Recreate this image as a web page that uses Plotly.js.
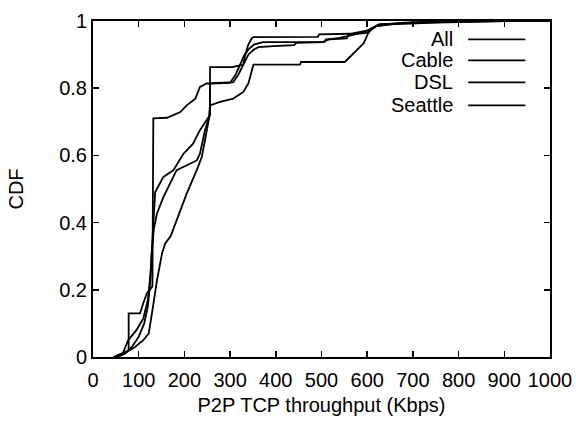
<!DOCTYPE html>
<html>
<head>
<meta charset="utf-8">
<script src="https://cdn.plot.ly/plotly-3.0.1.min.js"></script>
<style>html,body{margin:0;padding:0;background:#fff;}#chart{width:576px;height:424px;}</style>
</head>
<body>
<div id="chart"></div>
<script>
// Series names (legend order)
const seriesNames = ["All", "Cable", "DSL", "Seattle"];

// All: throughput (Kbps) and CDF
const allX = [50,70,85,100,112,120,125,128,133,140,154,183,227,234,245,253,256,256,300,312,322,330,340,352,372,504,515,540,590,620,680,800,1000];
const allY = [0,0.01,0.03,0.06,0.10,0.15,0.22,0.30,0.38,0.427,0.476,0.556,0.585,0.605,0.675,0.704,0.72,0.814,0.816,0.84,0.87,0.895,0.915,0.93,0.937,0.937,0.945,0.95,0.965,0.985,0.995,1,1];

// Cable
const cableX = [45,65,77,95,110,120,126,130,134,136,154,176,198,219,234,249,256,256,304,329,333,340,347,351,492,495,562,602,625,700,850,1000];
const cableY = [0,0.01,0.05,0.08,0.115,0.17,0.25,0.35,0.45,0.49,0.536,0.556,0.605,0.635,0.675,0.704,0.72,0.863,0.863,0.87,0.90,0.93,0.948,0.952,0.953,0.96,0.962,0.972,0.99,0.995,1,1];

// DSL
const dslX = [55,92,110,122,129,140,151,158,170,183,205,227,238,245,253,256,278,307,329,340,347,351,453,455,551,563,577,592,602,610,628,700,900,1000];
const dslY = [0,0.03,0.05,0.07,0.13,0.228,0.308,0.338,0.36,0.405,0.486,0.556,0.595,0.645,0.704,0.749,0.759,0.769,0.789,0.814,0.848,0.87,0.87,0.878,0.878,0.893,0.913,0.933,0.963,0.978,0.99,0.995,1,1];

// Seattle
const seattleX = [45,60,78,78,103,110,118,130,131,132,162,175,191,205,224,234,249,307,318,329,340,352,362,395,440,445,505,510,555,560,600,620,650,750,900,1000];
const seattleY = [0,0.01,0.02,0.13,0.13,0.16,0.19,0.21,0.5,0.71,0.712,0.72,0.729,0.749,0.769,0.804,0.814,0.818,0.84,0.87,0.90,0.915,0.922,0.925,0.928,0.935,0.937,0.945,0.948,0.96,0.965,0.985,0.99,0.995,1,1];

// Tick values
const xTicks = [0,100,200,300,400,500,600,700,800,900,1000];
const yTicks = [0,0.2,0.4,0.6,0.8,1];
const yTickLabels = ["0","0.2","0.4","0.6","0.8","1"];

const xs = [allX, cableX, dslX, seattleX];
const ys = [allY, cableY, dslY, seattleY];

const lineStyle = {color: "#000", width: 1.8};
const traces = seriesNames.map((n, i) => ({
  type: "scatter", mode: "lines", name: n,
  x: xs[i], y: ys[i], line: lineStyle, showlegend: false, cliponaxis: true
}));

// Manual legend: text on the left, line sample on the right (gnuplot style)
const legendRowsY = [0.9455, 0.883, 0.8176, 0.7491];
const annotations = seriesNames.map((n, i) => ({
  xref: "paper", yref: "paper", x: 0.792, y: legendRowsY[i],
  xanchor: "right", yanchor: "middle", text: n, showarrow: false,
  font: {family: "Liberation Sans, Arial, sans-serif", size: 20, color: "#000"}
}));
const shapes = seriesNames.map((n, i) => ({
  type: "line", xref: "paper", yref: "paper",
  x0: 0.821, x1: 0.946, y0: legendRowsY[i], y1: legendRowsY[i],
  line: {color: "#000", width: 1.8}
}));

const font = {family: "Liberation Sans, Arial, sans-serif", size: 20, color: "#000"};
const layout = {
  width: 576, height: 424,
  margin: {l: 93, r: 26, t: 21, b: 67, pad: 0},
  paper_bgcolor: "#fff", plot_bgcolor: "#fff",
  font: font,
  showlegend: false,
  xaxis: {
    range: [0, 1000], tickvals: xTicks, ticks: "inside", ticklen: 6, tickwidth: 1.5,
    tickcolor: "#000", showline: true, linecolor: "#000", linewidth: 2, mirror: "ticks",
    showgrid: false, zeroline: false, tickfont: font, ticklabelstandoff: 4,
    title: {text: "P2P TCP throughput (Kbps)", font: font, standoff: 8}
  },
  yaxis: {
    range: [0, 1], tickvals: yTicks, ticktext: yTickLabels, ticks: "inside", ticklen: 6, tickwidth: 1.5,
    tickcolor: "#000", showline: true, linecolor: "#000", linewidth: 2, mirror: "ticks",
    showgrid: false, zeroline: false, tickfont: font,
    title: {text: "CDF", font: font, standoff: 30}
  },
  annotations: annotations,
  shapes: shapes
};

Plotly.newPlot("chart", traces, layout, {staticPlot: true, displayModeBar: false});
</script>
</body>
</html>
